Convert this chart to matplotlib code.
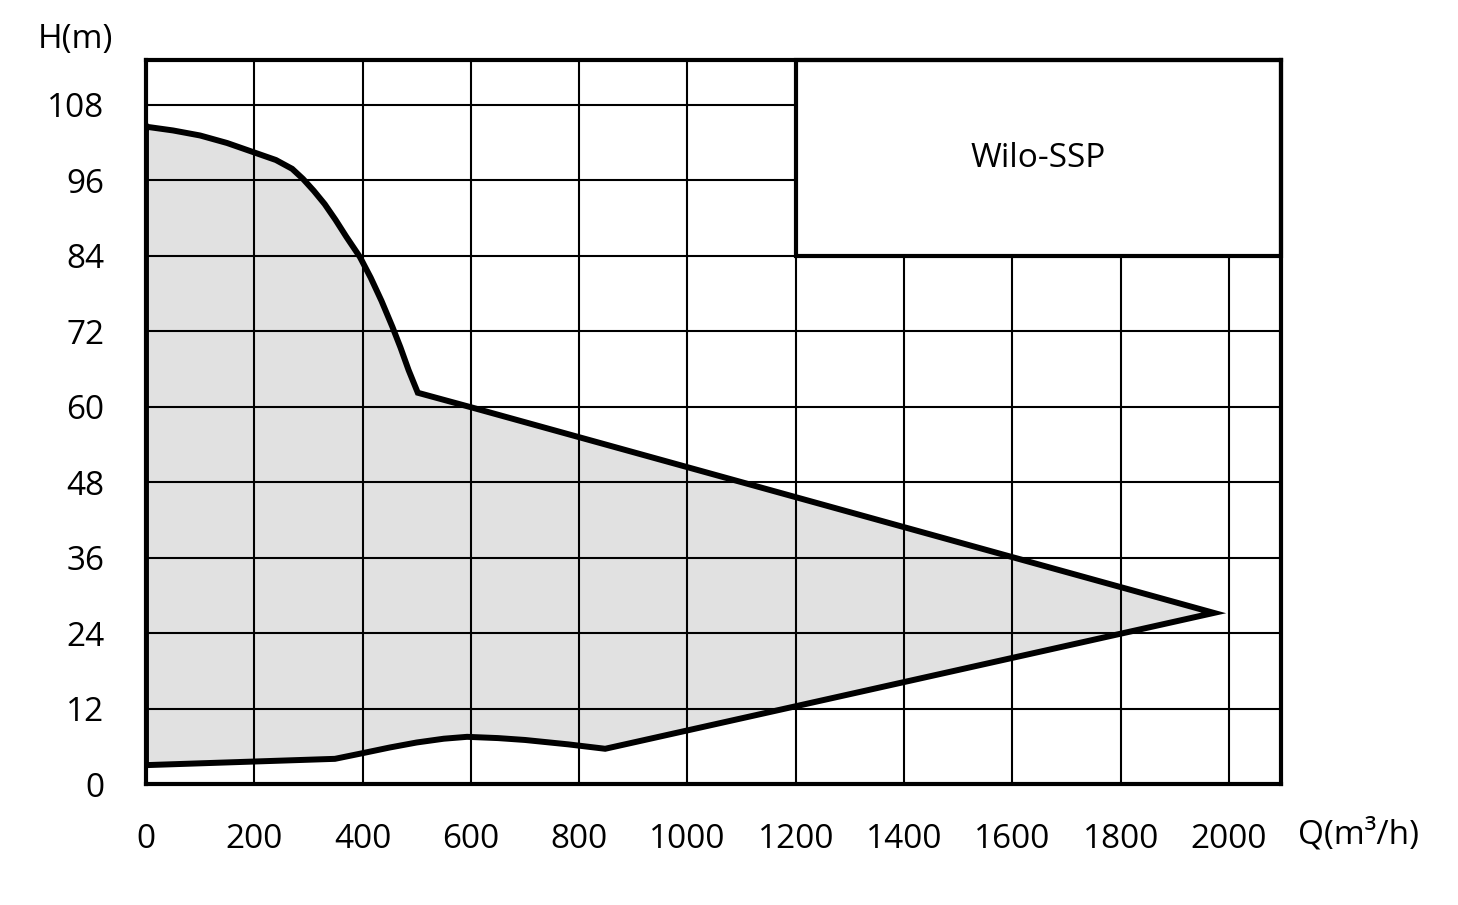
import numpy as np
import matplotlib
matplotlib.use('Agg')
import matplotlib.pyplot as plt
from matplotlib.patches import Rectangle

plt.rcParams['font.family'] = ['Open Sans', 'DejaVu Sans']

# operating range outline, Q in m3/h, H in m
q_upper = [0, 50, 100, 150, 200, 240, 270, 290, 310, 330, 350, 370, 395, 415, 435,
           455, 470, 485, 502, 600, 1972]
h_upper = [104.5, 103.9, 103.1, 101.9, 100.4, 99.2, 97.8, 96.2, 94.3, 92.2, 89.7, 87.0,
           83.8, 80.5, 76.8, 72.7, 69.4, 65.8, 62.2, 59.9, 27.2]
q_lower = [848, 780, 700, 650, 593, 550, 500, 450, 400, 349, 0]
h_lower = [5.6, 6.3, 7.0, 7.3, 7.5, 7.2, 6.6, 5.8, 4.9, 4.0, 3.0]

x_ticks = list(range(0, 2001, 200))
y_ticks = list(range(0, 109, 12))
label = 'Wilo-SSP'

fig = plt.figure(figsize=(14.58, 9.05), dpi=100)
ax = fig.add_axes([0.1001, 0.1337, 0.7785, 0.8])

q = q_upper + q_lower
h = h_upper + h_lower
ax.fill(q, h, facecolor='#e1e1e1', edgecolor='none', zorder=1)
ax.plot(q + [q[0]], h + [h[0]], color='black', lw=4.3, solid_joinstyle='miter', zorder=4)

ax.set_xlim(0, 2096)
ax.set_ylim(0, 115.1)
ax.set_xticks(x_ticks)
ax.set_yticks(y_ticks)
ax.set_axisbelow(False)
ax.grid(True, color='black', lw=1.5)
ax.tick_params(length=0, labelsize=24)
ax.tick_params(axis='x', pad=28)
ax.tick_params(axis='y', pad=30)
for s in ax.spines.values():
    s.set_linewidth(3)
    s.set_zorder(6)

# name box in the upper right corner
ax.add_patch(Rectangle((1200, 84), 896, 31.1, facecolor='white', edgecolor='black',
                       lw=3, zorder=5, clip_on=False))
ax.text(1648, 99.5, label, ha='center', va='center', fontsize=24, zorder=6)

ax.text(-0.029, 1.028, 'H(m)', transform=ax.transAxes, ha='right', va='center', fontsize=24)
ax.text(1.015, -0.07, 'Q(m³/h)', transform=ax.transAxes, ha='left', va='center', fontsize=24)

fig.savefig('out.png', dpi=100)
